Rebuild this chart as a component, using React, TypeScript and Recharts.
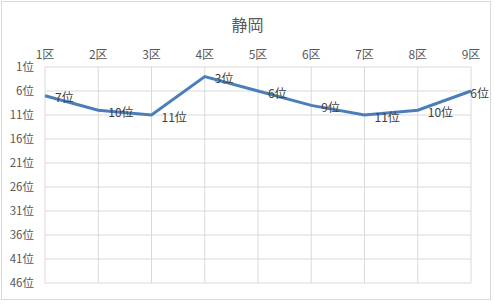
import React from 'react';
import { LineChart, Line, XAxis, YAxis, CartesianGrid, LabelList } from 'recharts';

const districts = ['1区', '2区', '3区', '4区', '5区', '6区', '7区', '8区', '9区'];
const ranks = [7, 10, 11, 3, 6, 9, 11, 10, 6];
const rankTicks = [1, 6, 11, 16, 21, 26, 31, 36, 41, 46];

const data = districts.map((d, i) => ({ district: d, rank: ranks[i] }));

const FONT = '"Noto Sans CJK JP", "Noto Sans", sans-serif';
const LABEL_RIGHT_LIMIT = 489;

// data label to the right of each point, like Excel's "right" position;
// pushed back inside when it would run past the chart border
const RankLabel = (props: any) => {
  const { x, y, value } = props;
  const approxWidth = String(value).length * 6.7 + 12;
  const left = Math.min(x + 10, LABEL_RIGHT_LIMIT - approxWidth);
  return (
    <text
      x={left}
      y={y + 1}
      fill="#404040"
      fontSize={12}
      fontFamily={FONT}
      textAnchor="start"
      dominantBaseline="central"
    >
      {value}位
    </text>
  );
};

export default function App() {
  return (
    <div style={{ position: 'fixed', left: 0, top: 0, width: 495, height: 304, background: '#fff' }}>
      <div
        style={{
          position: 'absolute',
          left: 1,
          top: 1,
          width: 490,
          height: 299,
          border: '1px solid #d9d9d9',
          boxSizing: 'border-box',
        }}
      />
      <div
        style={{
          position: 'absolute',
          left: 0,
          top: 12,
          width: 495,
          textAlign: 'center',
          fontFamily: FONT,
          fontSize: 16,
          color: '#595959',
        }}
      >
        静岡
      </div>
      <div style={{ position: 'absolute', left: 0, top: 0 }}>
        <LineChart
          width={495}
          height={304}
          data={data}
          margin={{ top: 37, right: 24, bottom: 21, left: 0 }}
        >
          <CartesianGrid stroke="#d9d9d9" strokeWidth={1} />
          <XAxis
            dataKey="district"
            orientation="top"
            height={30}
            axisLine={false}
            tickLine={false}
            interval={0}
            tick={{ fill: '#595959', fontSize: 12, fontFamily: FONT }}
          />
          <XAxis
            xAxisId="bottom"
            dataKey="district"
            orientation="bottom"
            height={0}
            axisLine={false}
            tick={false}
            tickSize={5}
            tickLine={{ stroke: '#d9d9d9' }}
            interval={0}
          />
          <YAxis
            type="number"
            domain={[1, 46]}
            reversed
            ticks={rankTicks}
            interval={0}
            width={45}
            axisLine={false}
            tickLine={false}
            tickSize={6}
            tickMargin={5}
            tickFormatter={(v) => `${v}位`}
            tick={{ fill: '#595959', fontSize: 11.5, fontFamily: FONT }}
          />
          <Line
            type="linear"
            dataKey="rank"
            stroke="#4a7ebb"
            strokeWidth={3}
            dot={false}
            activeDot={false}
            isAnimationActive={false}
          >
            <LabelList dataKey="rank" content={<RankLabel />} />
          </Line>
        </LineChart>
      </div>
    </div>
  );
}
